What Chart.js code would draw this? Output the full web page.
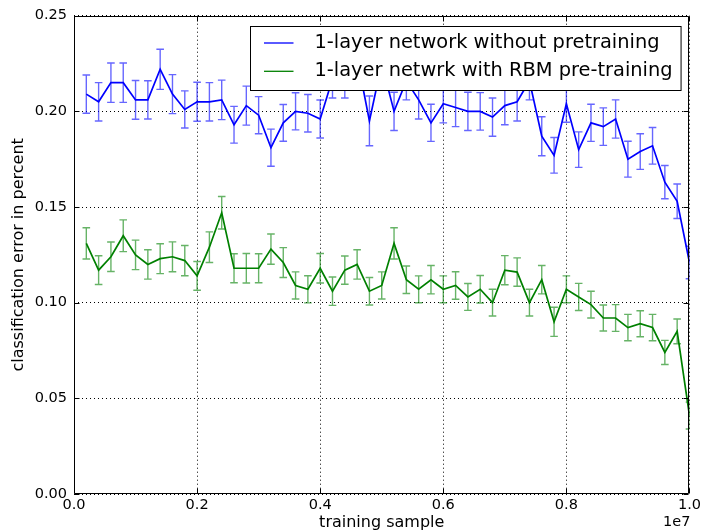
<!DOCTYPE html>
<html>
<head>
<meta charset="utf-8">
<script src="https://cdn.jsdelivr.net/npm/chart.js@4/dist/chart.umd.min.js"></script>
<style>
  html, body { margin: 0; padding: 0; background: #fff; }
  #c { display: block; }
</style>
</head>
<body>
<canvas id="c" width="704" height="532"></canvas>
<script>
// ---- data (x in units of 1e7 training samples) ----
const samples = [0.02,0.04,0.06,0.08,0.10,0.12,0.14,0.16,0.18,0.20,
                 0.22,0.24,0.26,0.28,0.30,0.32,0.34,0.36,0.38,0.40,
                 0.42,0.44,0.46,0.48,0.50,0.52,0.54,0.56,0.58,0.60,
                 0.62,0.64,0.66,0.68,0.70,0.72,0.74,0.76,0.78,0.80,
                 0.82,0.84,0.86,0.88,0.90,0.92,0.94,0.96,0.98,1.00];

const noPretrain = [0.209,0.205,0.215,0.215,0.206,0.206,0.222,0.209,0.201,0.205,
                    0.205,0.206,0.193,0.203,0.198,0.181,0.194,0.200,0.199,0.196,
                    0.217,0.217,0.228,0.195,0.225,0.200,0.216,0.206,0.194,0.204,
                    0.202,0.200,0.200,0.197,0.203,0.205,0.216,0.187,0.177,0.204,
                    0.180,0.194,0.192,0.196,0.175,0.179,0.182,0.163,0.153,0.121];
const noPretrainErr = [0.0100,0.0100,0.0103,0.0103,0.0101,0.0100,0.0105,0.0102,0.0097,0.0102,
                       0.0100,0.0103,0.0096,0.0102,0.0097,0.0097,0.0096,0.0097,0.0098,0.0099,
                       0.0100,0.0100,0.0100,0.0130,0.0100,0.0100,0.0100,0.0100,0.0097,0.0100,
                       0.0100,0.0100,0.0098,0.0100,0.0100,0.0100,0.0100,0.0102,0.0093,0.0097,
                       0.0093,0.0097,0.0098,0.0100,0.0094,0.0093,0.0096,0.0087,0.0090,0.0085];

const rbmPretrain = [0.131,0.117,0.124,0.135,0.125,0.120,0.123,0.124,0.122,0.114,
                     0.129,0.147,0.118,0.118,0.118,0.128,0.121,0.109,0.107,0.118,
                     0.106,0.117,0.120,0.106,0.109,0.131,0.112,0.107,0.112,0.107,
                     0.109,0.103,0.107,0.100,0.117,0.116,0.100,0.112,0.090,0.107,
                     0.103,0.099,0.092,0.092,0.087,0.089,0.087,0.074,0.085,0.041];
const rbmPretrainErr = [0.0082,0.0075,0.0077,0.0083,0.0077,0.0077,0.0078,0.0078,0.0079,0.0075,
                        0.0080,0.0085,0.0076,0.0077,0.0076,0.0079,0.0078,0.0071,0.0071,0.0077,
                        0.0074,0.0074,0.0077,0.0072,0.0071,0.0082,0.0072,0.0070,0.0074,0.0070,
                        0.0072,0.0070,0.0072,0.0070,0.0076,0.0074,0.0070,0.0074,0.0076,0.0070,
                        0.0071,0.0070,0.0068,0.0070,0.0069,0.0068,0.0069,0.0063,0.0065,0.0070];

const seriesLabels = ['1-layer network without pretraining', '1-layer netwrk with RBM pre-training'];
const xTicks = [0.0, 0.2, 0.4, 0.6, 0.8, 1.0];
const yTicks = [0.00, 0.05, 0.10, 0.15, 0.20, 0.25];
const xAxisTitle = 'training sample';
const yAxisTitle = 'classification error in percent';
const xOffsetText = '1e7';

// ---- styling ----
const FONT = "'DejaVu Sans', 'Liberation Sans', sans-serif";
Chart.defaults.font.family = FONT;
Chart.defaults.color = '#000';

function pts(xs, ys) { return xs.map((x, i) => ({ x: x, y: ys[i] })); }

const errorBarPlugin = {
  id: 'errorBars',
  beforeDatasetsDraw(chart) {
    const { ctx, chartArea, scales: { x, y } } = chart;
    ctx.save();
    ctx.beginPath();
    ctx.rect(chartArea.left, chartArea.top, chartArea.right - chartArea.left, chartArea.bottom - chartArea.top);
    ctx.clip();
    chart.data.datasets.forEach(ds => {
      if (!ds.errors) return;
      ctx.strokeStyle = ds.errorColor;
      ctx.lineWidth = 1.4;
      const cap = 3.8;
      ds.data.forEach((p, i) => {
        const e = ds.errors[i];
        const px = x.getPixelForValue(p.x);
        const yt = y.getPixelForValue(p.y + e);
        const yb = y.getPixelForValue(p.y - e);
        ctx.beginPath();
        ctx.moveTo(px, yt); ctx.lineTo(px, yb);
        ctx.moveTo(px - cap, yt); ctx.lineTo(px + cap, yt);
        ctx.moveTo(px - cap, yb); ctx.lineTo(px + cap, yb);
        ctx.stroke();
      });
    });
    ctx.restore();
  }
};

const framePlugin = {
  id: 'frame',
  afterDatasetsDraw(chart) {
    const { ctx, chartArea: a, scales: { x, y } } = chart;
    ctx.save();
    ctx.strokeStyle = '#000';
    ctx.lineWidth = 1;
    const L = Math.round(a.left) + 0.5, R = Math.round(a.right) - 0.5;
    const T = Math.round(a.top) + 0.5, B = Math.round(a.bottom) - 0.5;
    ctx.beginPath();
    ctx.rect(L, T, R - L, B - T);
    ctx.stroke();
    // inward ticks on all four sides
    const tl = 5;
    ctx.beginPath();
    xTicks.forEach(v => {
      const px = Math.round(x.getPixelForValue(v)) + 0.5;
      ctx.moveTo(px, B); ctx.lineTo(px, B - tl);
      ctx.moveTo(px, T); ctx.lineTo(px, T + tl);
    });
    yTicks.forEach(v => {
      const py = Math.round(y.getPixelForValue(v)) + 0.5;
      ctx.moveTo(L, py); ctx.lineTo(L + tl, py);
      ctx.moveTo(R, py); ctx.lineTo(R - tl, py);
    });
    ctx.stroke();
    ctx.restore();
  },
  afterDraw(chart) {
    const { ctx, chartArea: a } = chart;
    ctx.save();
    // offset text for the x axis
    ctx.font = '14.5px ' + FONT;
    ctx.fillStyle = '#000';
    ctx.textAlign = 'right';
    ctx.textBaseline = 'middle';
    ctx.fillText(xOffsetText, a.right + 1, 522.5);

    // legend inside the axes, upper right
    const fs = 19.4;
    ctx.font = fs + 'px ' + FONT;
    const tw = Math.max(...seriesLabels.map(t => ctx.measureText(t).width));
    const padL = 13.5, lineLen = 29.5, gap = 21, padR = 8.5;
    const boxW = padL + lineLen + gap + tw + padR;
    const boxH = 64;
    const bx = Math.round(a.right - 9 - boxW) + 0.5;
    const by = Math.round(a.top + 10) + 0.5;
    ctx.fillStyle = '#fff';
    ctx.fillRect(bx, by, boxW, boxH);
    ctx.strokeStyle = '#000';
    ctx.lineWidth = 1;
    ctx.strokeRect(bx, by, boxW, boxH);
    chart.data.datasets.forEach((ds, i) => {
      const cy = by + 16.5 + i * 28.3;
      ctx.strokeStyle = ds.borderColor;
      ctx.lineWidth = 1.3;
      ctx.beginPath();
      ctx.moveTo(bx + padL, cy); ctx.lineTo(bx + padL + lineLen, cy);
      ctx.stroke();
      ctx.fillStyle = '#000';
      ctx.textAlign = 'left';
      ctx.textBaseline = 'middle';
      ctx.fillText(seriesLabels[i], bx + padL + lineLen + gap, cy);
    });
    ctx.restore();
  }
};

new Chart(document.getElementById('c'), {
  type: 'line',
  data: {
    datasets: [
      { label: seriesLabels[0], data: pts(samples, noPretrain), errors: noPretrainErr,
        borderColor: '#0000ff', errorColor: 'rgba(0,0,255,0.6)', borderWidth: 1.7,
        pointRadius: 0, fill: false, tension: 0 },
      { label: seriesLabels[1], data: pts(samples, rbmPretrain), errors: rbmPretrainErr,
        borderColor: '#008000', errorColor: 'rgba(0,128,0,0.6)', borderWidth: 1.7,
        pointRadius: 0, fill: false, tension: 0 }
    ]
  },
  options: {
    responsive: false,
    animation: false,
    devicePixelRatio: 1,
    layout: { padding: { top: 15, right: 13, left: 0, bottom: 0 } },
    plugins: { legend: { display: false }, tooltip: { enabled: false } },
    scales: {
      x: {
        type: 'linear', min: 0, max: 1,
        afterBuildTicks: s => { s.ticks = xTicks.map(v => ({ value: v })); },
        ticks: { callback: v => Number(v).toFixed(1), font: { size: 14.5 }, color: '#000', padding: 3, maxRotation: 0, autoSkip: false },
        grid: { color: '#000', lineWidth: 1, drawTicks: false },
        border: { display: false, dash: [1, 3] },
        title: { display: true, text: xAxisTitle, font: { size: 16 }, color: '#000', padding: { top: 0, bottom: 0 } },
        afterFit: s => { s.height = 38; }
      },
      y: {
        type: 'linear', min: 0, max: 0.25,
        afterBuildTicks: s => { s.ticks = yTicks.map(v => ({ value: v })); },
        ticks: { callback: v => Number(v).toFixed(2), font: { size: 14.5 }, color: '#000', padding: 7, autoSkip: false },
        grid: { color: '#000', lineWidth: 1, drawTicks: false },
        border: { display: false, dash: [1, 3] },
        title: { display: true, text: yAxisTitle, font: { size: 16 }, color: '#000', padding: { top: 9, bottom: 0 } },
        afterFit: s => { s.width = 74; }
      }
    }
  },
  plugins: [errorBarPlugin, framePlugin]
});
</script>
</body>
</html>
